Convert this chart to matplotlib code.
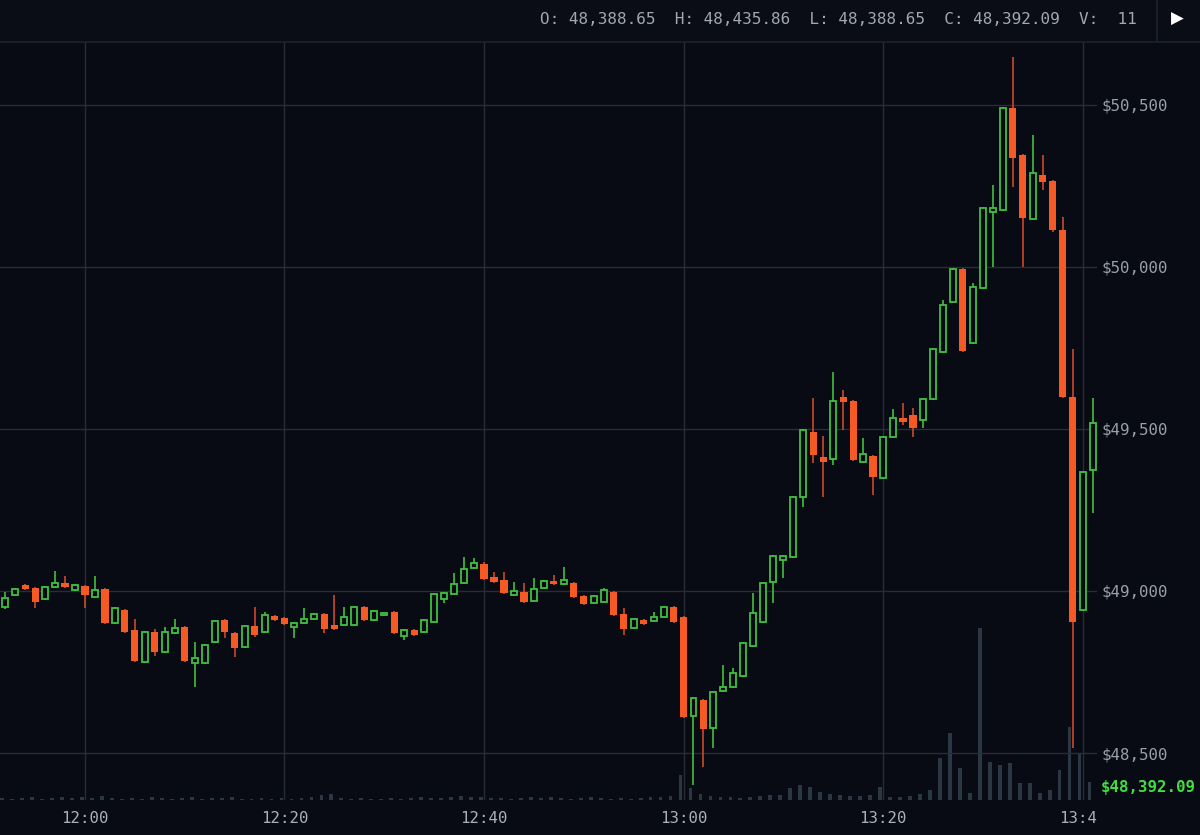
import matplotlib
matplotlib.use("Agg")
import matplotlib.pyplot as plt
import numpy as np
import pandas as pd
from matplotlib.patches import Rectangle
from matplotlib.lines import Line2D
from matplotlib.transforms import Bbox, TransformedBbox, blended_transform_factory

# ---------------- data ----------------
times = pd.date_range("2021-01-01 11:52", periods=110, freq="min")

opens = [48951, 48988, 49019, 49009, 48975, 49012, 49025, 49003,
         49015, 48981, 49006, 48901, 48941, 48880, 48781, 48873, 48812, 48870,
         48889, 48778, 48778, 48843, 48910, 48870, 48827, 48892, 48873, 48923,
         48917, 48889, 48901, 48914, 48929, 48895, 48895, 48895, 48951, 48910,
         48926, 48935, 48861, 48880, 48873, 48904, 48975, 48991, 49025, 49071,
         49083, 49043, 49034, 48988, 48997, 48969, 49009, 49031, 49022, 49025,
         48985, 48963, 48966, 48997, 48929, 48886, 48910, 48907, 48920, 48951,
         48920, 48614, 48664, 48577, 48691, 48704, 48738, 48830, 48904, 49028,
         49096, 49105, 49290, 49491, 49414, 49407, 49599, 49586, 49398, 49417,
         49349, 49475, 49534, 49543, 49528, 49593, 49738, 49892, 49994, 49765,
         49935, 50170, 50176, 50491, 50346, 50148, 50284, 50265, 50114, 49599,
         48941, 49373]

highs = [48997, 49010, 49022, 49012, 49015, 49062, 49046, 49022,
         49018, 49046, 49009, 48951, 48945, 48914, 48876, 48883, 48889, 48914,
         48892, 48843, 48837, 48910, 48913, 48873, 48895, 48951, 48935, 48926,
         48920, 48904, 48948, 48932, 48932, 48988, 48951, 48954, 48954, 48941,
         48935, 48938, 48883, 48883, 48913, 48994, 48997, 49056, 49105, 49102,
         49089, 49059, 49059, 49028, 49025, 49040, 49034, 49049, 49074, 49028,
         48988, 48988, 49009, 49000, 48948, 48917, 48913, 48935, 48954, 48954,
         48923, 48673, 48667, 48691, 48772, 48762, 48843, 48994, 49028, 49111,
         49111, 49293, 49500, 49596, 49478, 49676, 49620, 49589, 49472, 49420,
         49478, 49562, 49580, 49565, 49596, 49750, 49898, 49997, 49997, 49951,
         50185, 50253, 50494, 50648, 50349, 50407, 50346, 50268, 50154, 49747,
         49370, 49596]

lows = [48944, 48985, 49004, 48948, 48972, 49010, 49010, 49000,
        48948, 48978, 48898, 48898, 48870, 48780, 48778, 48800, 48808, 48867,
        48781, 48704, 48775, 48840, 48855, 48796, 48824, 48858, 48870, 48907,
        48895, 48855, 48898, 48911, 48870, 48880, 48892, 48892, 48907, 48907,
        48923, 48867, 48849, 48861, 48870, 48901, 48963, 48988, 49022, 49068,
        49034, 49025, 48991, 48985, 48963, 48966, 49006, 49019, 49019, 48978,
        48957, 48960, 48963, 48923, 48864, 48883, 48895, 48904, 48917, 48901,
        48608, 48401, 48457, 48515, 48688, 48701, 48735, 48827, 48901, 48963,
        49040, 49102, 49259, 49395, 49290, 49389, 49497, 49401, 49395, 49296,
        49346, 49472, 49512, 49475, 49503, 49590, 49735, 49889, 49738, 49762,
        49932, 50000, 50173, 50247, 50000, 50145, 50238, 50108, 49596, 48515,
        48938, 49241]

closes = [48978, 49006, 49006, 48966, 49012, 49025, 49012, 49019,
          48988, 49003, 48901, 48948, 48873, 48784, 48873, 48812, 48873, 48886,
          48784, 48793, 48833, 48907, 48873, 48824, 48892, 48864, 48926, 48910,
          48898, 48901, 48914, 48929, 48883, 48883, 48920, 48951, 48910, 48938,
          48932, 48870, 48880, 48864, 48910, 48991, 48994, 49022, 49068, 49086,
          49037, 49028, 48994, 49000, 48966, 49006, 49031, 49022, 49034, 48981,
          48960, 48985, 49003, 48926, 48883, 48914, 48898, 48920, 48951, 48904,
          48611, 48670, 48574, 48688, 48704, 48747, 48840, 48932, 49025, 49108,
          49108, 49290, 49497, 49420, 49398, 49586, 49583, 49404, 49423, 49352,
          49475, 49534, 49522, 49503, 49593, 49747, 49883, 49994, 49741, 49938,
          50182, 50182, 50491, 50336, 50151, 50290, 50262, 50114, 49599, 48904,
          49367, 49519]

volumes = [2, 1, 2, 3, 1, 2, 3, 2,
           3, 2, 4, 2, 1, 2, 1, 3, 2, 1,
           2, 3, 1, 2, 2, 3, 1, 1, 2, 1,
           2, 1, 2, 3, 5, 6, 2, 1, 2, 1,
           1, 2, 1, 2, 3, 2, 2, 3, 4, 3,
           3, 2, 2, 1, 2, 3, 2, 3, 2, 1,
           2, 3, 2, 1, 2, 1, 2, 3, 3, 4,
           25, 12, 6, 4, 3, 3, 2, 3, 4, 5,
           5, 12, 15, 13, 8, 6, 5, 4, 4, 5,
           13, 3, 3, 4, 6, 10, 42, 67, 32, 7,
           172, 38, 35, 37, 17, 17, 7, 10, 30, 73,
           47, 18]

price_ticks = [48500, 49000, 49500, 50000, 50500]
price_labels = ["$48,500", "$49,000", "$49,500", "$50,000", "$50,500"]
time_ticks = ["12:00", "12:20", "12:40", "13:00", "13:20", "13:40"]
last_price = 48392.09
last_label = "$48,392.09"
header_text = "O: 48,388.65  H: 48,435.86  L: 48,388.65  C: 48,392.09  V:  11"

# ---------------- style ----------------
BG = "#080b14"
HEADER_BG = "#0a0d16"
GRID = "#272c36"
RED = "#f65a24"
RED_WICK = "#cc4a2a"
GREEN = "#3fc03f"
VOL = "#2b3844"
LABEL = "#9ba0a8"
plt.rcParams["font.family"] = ["DejaVu Sans Mono", "DejaVu Sans"]

W, H = 1200, 835
fig = plt.figure(figsize=(W / 100, H / 100), dpi=100, facecolor=BG)

ax_left, ax_right, ax_top, ax_bot = 0, 1097, 42, 800
rect = [ax_left / W, (H - ax_bot) / H, (ax_right - ax_left) / W, (ax_bot - ax_top) / H]

t0 = pd.Timestamp("2021-01-01 12:00")
x = np.asarray((times - t0) / pd.Timedelta(minutes=1), dtype=float)
tick_x = [(pd.Timestamp("2021-01-01 " + s) - t0) / pd.Timedelta(minutes=1) for s in time_ticks]
xlim = (-8.52, 101.45)
ylim = (48355, 50694)

# volume axes (behind)
axv = fig.add_axes(rect)
axv.set_facecolor(BG)
axv.bar(x - 0.3, volumes, width=0.38, color=VOL, linewidth=0)
axv.set_xlim(*xlim)
axv.set_ylim(0, ax_bot - ax_top)
axv.set_xticks([])
axv.set_yticks([])
for s in axv.spines.values():
    s.set_visible(False)

# price axes (front)
ax = fig.add_axes(rect)
ax.patch.set_visible(False)
ax.set_xlim(*xlim)
ax.set_ylim(*ylim)
for s in ax.spines.values():
    s.set_visible(False)

o = np.array(opens, float)
h = np.array(highs, float)
l = np.array(lows, float)
c = np.array(closes, float)
up = c >= o
lo_body = np.minimum(o, c)
hgt = np.maximum(np.abs(c - o), 4)

ax.vlines(x[up], l[up], h[up], color=GREEN, lw=1.2, zorder=3)
ax.vlines(x[~up], l[~up], h[~up], color=RED_WICK, lw=1.2, zorder=3)
ax.bar(x[up], hgt[up], bottom=lo_body[up], width=0.6, facecolor=BG,
       edgecolor=GREEN, linewidth=1.3, zorder=4)
ax.bar(x[~up], hgt[~up], bottom=lo_body[~up], width=0.72, color=RED,
       linewidth=0, zorder=4)

ax.set_xticks(tick_x)
ax.set_xticklabels(time_ticks)
ax.set_yticks(price_ticks)
ax.set_yticklabels(price_labels)
ax.yaxis.tick_right()
ax.grid(True, color=GRID, lw=1.0, zorder=0)
ax.set_axisbelow(True)
ax.tick_params(axis="y", length=0, pad=3, labelcolor=LABEL, labelsize=11.3)
ax.tick_params(axis="x", length=0, pad=8, labelcolor="#aab0b7", labelsize=11.3)

# clip last x label at the plot edge (shows "13:4")
clipbox = TransformedBbox(Bbox([[0, 0], [ax_right / W, 1]]), fig.transFigure)
lastlab = ax.xaxis.get_major_ticks()[-1].label1
lastlab.set_clip_box(clipbox)
lastlab.set_clip_on(True)

# last price label
tr = blended_transform_factory(ax.transAxes, ax.transData)
ax.text(1.0 + 4 / (ax_right - ax_left), last_price, last_label, transform=tr,
        color="#41de41", fontsize=11.3, fontweight="bold", va="center", ha="left",
        clip_on=False)

# header
fig.patches.append(Rectangle((0, 1 - 41 / H), 1, 41 / H, transform=fig.transFigure,
                             facecolor=HEADER_BG, edgecolor="none", zorder=0))
fig.add_artist(Line2D([0, 1], [1 - 41.5 / H] * 2, color="#1d222c", lw=1.2))
fig.add_artist(Line2D([1157 / W] * 2, [1 - 41 / H, 1], color="#1d222c", lw=1.2))
fig.text(540 / W, 1 - 19 / H, header_text, color="#a3a8b0", fontsize=11.5,
         va="center", ha="left")
fig.text(1177 / W, 1 - 19 / H, "\u25B6", color="white", fontsize=12,
         va="center", ha="center", family=["DejaVu Sans"])

fig.savefig("out.png", dpi=100, facecolor=BG)
